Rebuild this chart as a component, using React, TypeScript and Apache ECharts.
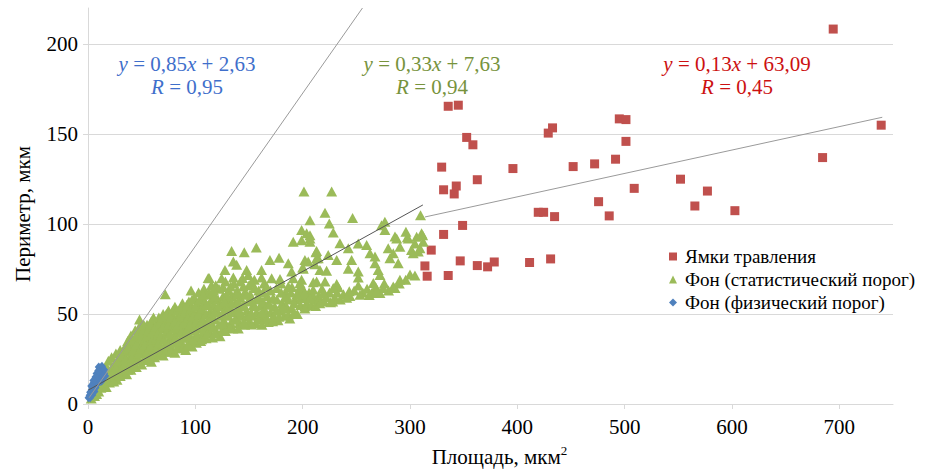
import React, { useEffect, useRef } from "react";
import * as echarts from "echarts";

// ---- Data ----
const seriesNames = ["Ямки травления", "Фон (статистический порог)", "Фон (физический порог)"];

const pitsData: number[][] = [
  [694.3, 208.3], [739, 154.9], [684.4, 136.9], [335.6, 165.4], [345, 166], [352.8, 148.1],
  [358.6, 144], [329.5, 131.6], [331.3, 119], [343.1, 121.1], [341.2, 116.7], [362.7, 124.6],
  [395.9, 130.8], [428.8, 150.5], [432.8, 153.4], [495, 158.4], [501.2, 158], [501.2, 145.9],
  [491.5, 136], [472, 133.4], [452, 131.9], [508.9, 119.8], [552, 124.9], [577.1, 118.3],
  [565.4, 110], [602.7, 107.4], [475.7, 112.4], [485.6, 104.5], [419.5, 106.5], [424.5, 106.5],
  [434.7, 104.1], [349, 99.2], [331.3, 94.2], [319.8, 85.5], [313.9, 76.7], [316, 71],
  [335.6, 71.4], [346.8, 79.5], [362.7, 76.9], [372.3, 76.2], [378.5, 78.9], [411.4, 78.6],
  [431, 80.6],
];

const bgStatData: number[][] = [
  // dense band, area 0..115
  [3, 3], [4, 6], [6, 4.5], [7, 8], [8, 5.5], [9, 10], [10, 7], [11, 12], [12, 9], [13, 15], [14, 11],
  [15, 18], [16, 13], [17, 21], [17, 9.5], [18, 16], [19, 24], [20, 12], [21, 19], [22, 26], [23, 14],
  [24, 22], [25, 17], [26, 28], [27, 13.5], [28, 20], [29, 25], [30, 30], [30, 15.5], [32, 23], [33, 18],
  [34, 27], [35, 32], [36, 16.5], [36, 21], [37, 35], [38, 25], [39, 29], [40, 19], [40, 38], [41, 33],
  [42, 23], [43, 27], [44, 41], [44, 36], [45, 20.5], [46, 31], [47, 25], [48, 47], [48, 39], [49, 43],
  [50, 22], [50, 34], [51, 28], [52, 37], [53, 41], [54, 24.5], [54, 31], [55, 44], [56, 27], [57, 35],
  [58, 39], [59, 23.5], [59, 46], [60, 30], [61, 42], [62, 26], [62, 36], [63, 33], [64, 45], [65, 28],
  [65, 39], [66, 48], [67, 31], [68, 42], [69, 36], [70, 27], [70, 50], [71, 45], [72, 61], [72, 33],
  [73, 39], [74, 29], [74, 47], [75, 52], [76, 36], [77, 42], [78, 31], [78, 50], [79, 45], [80, 38],
  [81, 28.5], [81, 54], [82, 34], [83, 48], [84, 41], [85, 31], [85, 52], [86, 45], [87, 37], [88, 56],
  [88, 33], [89, 49], [90, 42], [91, 30], [91, 53], [92, 46], [93, 37], [94, 34], [94, 57], [95, 50],
  [96, 41], [96, 63], [97, 32], [97, 54], [98, 45], [99, 59], [100, 37], [100, 49], [101, 34], [102, 56],
  [102, 42], [103, 62], [104, 52], [105, 35], [105, 46], [106, 58], [107, 39], [108, 64], [108, 50],
  [109, 43], [110, 36.5], [110, 55], [111, 61], [112, 47], [112, 70], [113, 40], [114, 52], [115, 66],
  [115, 58],
  [18, 13], [22, 17], [24, 12.5], [26, 20], [27, 24], [29, 16], [31, 19], [31, 27], [33, 30], [34, 22],
  [35, 25], [37, 19], [38, 31], [39, 22], [41, 26], [41, 36], [42, 30], [43, 21], [45, 33], [45, 38],
  [46, 24], [47, 28], [47, 42], [49, 31], [50, 37], [51, 40], [52, 25], [52, 44], [53, 33], [55, 29],
  [55, 38], [56, 41], [57, 25.5], [58, 32], [58, 44], [60, 36], [60, 40], [61, 27], [61, 48], [63, 30],
  [63, 43], [64, 37], [66, 34], [66, 40], [67, 27.5], [67, 45], [68, 38], [69, 31], [69, 48], [70, 43],
  [71, 36], [72, 29], [73, 50], [74, 41], [75, 33], [75, 44], [76, 39], [77, 29.5], [77, 48], [79, 34],
  [79, 52], [80, 42], [81, 46], [82, 37], [83, 31], [83, 52], [84, 44], [85, 35], [86, 49], [87, 40],
  [87, 54], [89, 32], [89, 45], [90, 37], [90, 51], [92, 41], [92, 55], [93, 33], [93, 48], [95, 38],
  [95, 44], [96, 53], [97, 58], [98, 36], [98, 49], [99, 42], [100, 54], [101, 46], [102, 38], [103, 50],
  [104, 44], [104, 58], [106, 36], [106, 53], [107, 47], [108, 41], [109, 57], [110, 50], [111, 39],
  [111, 44], [113, 55], [113, 62], [114, 48], [116, 37], [116, 44], [117, 55], [118, 47], [119, 66],
  [120, 40], [120, 52], [121, 58], [122, 44], [122, 64], [123, 49], [124, 55], [125, 41], [126, 60],
  [127, 46], [128, 53], [128, 68], [129, 43], [130, 57], [131, 49], [131, 63], [133, 45], [133, 53],
  [134, 60], [135, 42], [136, 67], [136, 51], [137, 56], [139, 47], [139, 63], [140, 53], [141, 45],
  [142, 59], [143, 49], [144, 70], [145, 55], [146, 44], [146, 62], [148, 52], [149, 57], [150, 46],
  [150, 66], [151, 61], [153, 49], [154, 55], [155, 69], [156, 45], [157, 58], [157, 51], [159, 63],
  [160, 49], [161, 55], [163, 57], [164, 47], [164, 67], [165, 52], [167, 60], [168, 45.5], [168, 56],
  [170, 51], [170, 63], [173, 49], [174, 54], [176, 58], [177, 46.5], [179, 52], [180, 67], [181, 56],
  [183, 49], [184, 62], [185, 54], [187, 58], [188, 47.5], [190, 53], [190, 65], [193, 58], [195, 50],
  [196, 62], [198, 55], [199, 59], [201, 63], [204, 56], [206, 62], [208, 55], [210, 60], [212, 54.5],
  [215, 60], [218, 64], [220, 57], [222, 59.5], [225, 62], [226, 56.5], [230, 59], [232, 62], [235, 58],
  [238, 61], [244, 60], [248, 63], [256, 62], [260, 64], [262, 60.5], [268, 65], [276, 67], [280, 63],
  [290, 67], [296, 69], [300, 72],
  // area 105..215
  [199, 96.6], [206.8, 93.8], [191.2, 90.2], [199, 91], [206.8, 90.2], [156.8, 86.9], [133.8, 85],
  [145.6, 84.3], [169.5, 80], [178, 81.3], [212.4, 84.3], [214.5, 81], [135.4, 79.1], [138.5, 77.3],
  [186.6, 78.2], [205.2, 79.1], [211.4, 77.6], [127.6, 74.5], [147.8, 74.5], [161.7, 74.5], [189.7, 73.6],
  [200.6, 75.1], [113, 69.9], [124.5, 69.9], [135.4, 70.3], [149.3, 71.7], [161.7, 70.3], [171.1, 69.9],
  [178.9, 69.5], [191.2, 69.9], [199, 69], [213, 68.1], [132.9, 65.3], [144.7, 65.3], [155.5, 64.4],
  [166.5, 65.3], [175.7, 64.4], [186.6, 65.3], [197.5, 64.8], [209.8, 63.5], [107.4, 60.7], [118.3, 59.8],
  [129.2, 60.7], [138.5, 60.7], [147.8, 60.7], [158.6, 59.8], [172.6, 58.9], [183.5, 59.3], [194.3, 60.7],
  [203.6, 58.9], [213, 57.9], [110.5, 55.2], [121.3, 54.3], [133.9, 56.1], [144.7, 54.3], [155.5, 54.3],
  [169.5, 55.2], [181.9, 53.4], [202.1, 54.3], [113.6, 48.8], [126, 49.7], [136.9, 46.9], [147.8, 48.8],
  [158.6, 46.9], [166.5, 47.8], [186.6, 49.7], [105.9, 43.3], [116.7, 42.3], [132.3, 42.3], [152.5, 44.1],
  [123, 37.7], [118, 39.5], [128, 40.5], [140, 42], [145, 45.5], [162, 44], [172, 46], [178, 48.5],
  [192, 50.5], [176, 52], [192, 56], [162, 51], [152, 50.5], [141, 51.5], [130, 52.5], [118, 51],
  [125, 45], [113, 45.5], [189, 62], [180, 62], [163, 62], [152, 57.5], [140, 57], [127, 57], [117, 63],
  [126, 65], [152, 67.5], [142, 68],
  // area 195..315
  [227, 118.1], [201.2, 118.1], [220.8, 106.2], [206.8, 102.1], [224.8, 100.3], [246.5, 103.4],
  [273.5, 99.3], [276.6, 101.2], [309.8, 104.9], [206.8, 92], [228.5, 95.3], [234.7, 89.3], [276.6, 96.6],
  [287.6, 92], [298.4, 92], [306.2, 92.9], [312.3, 90.2], [304.6, 89.2], [213, 85], [223.8, 82.8],
  [242.5, 86.5], [251.8, 89.2], [259.6, 88.3], [262.7, 83.7], [279.7, 86.5], [284.4, 83.7], [301.4, 85.5],
  [307.7, 84.7], [202.1, 80], [213, 81], [231.7, 80], [245.6, 80], [267.4, 81.9], [267.4, 78.2],
  [281.3, 81], [289, 78.2], [200, 75.8], [216.1, 74.5], [222.3, 74], [242.5, 75.1], [251.8, 73.6],
  [270.4, 74.5], [272, 71.7], [304.6, 71.4], [197.5, 67.2], [209.9, 67.7], [220.8, 68.1], [231.7, 66.6],
  [233.2, 64.8], [251.8, 70.3], [265.8, 67.2], [275.1, 64.4], [286, 64.4], [202.1, 61.6], [206.8, 58.9],
  [219.2, 61.6], [214.5, 57.1], [243.4, 62.6], [251.8, 65.9], [264.3, 61.6], [272, 61.6],
  [286, 93], [297.5, 92.7], [311.8, 93.8], [203.7, 94.8], [296.2, 95.7], [310.8, 94.8], [290.6, 87.4],
  [303, 83.7], [309.3, 86.5], [290.6, 69], [216, 56], [228, 57], [241, 59], [253.4, 60.7], [269, 62.6],
  [284.4, 65.3], [228.5, 64.4], [202, 53],
];

const bgPhysData: number[][] = [
  [0.5, 3.5], [1.5, 4.8], [2, 6.5], [3, 5.2], [3.5, 8], [4, 9.5], [5, 7.5], [5, 11.5], [6, 10],
  [6.5, 13.5], [7, 12], [8, 14.5], [8, 17], [9, 11.5], [9.5, 18.5], [10, 20.5], [11, 19], [12, 17],
  [12, 15], [13, 18.5], [14, 16], [11, 13.5], [13, 13], [10, 15.5], [14, 19.5], [15, 15],
  [2, 3.5], [4, 5], [6, 7], [7, 9], [8, 11], [10, 12.5], [11, 16], [12, 20], [13, 21], [14, 17.5],
  [15, 17], [9, 14], [10, 18], [12, 12.5], [16, 15.5], [15, 19], [7, 15], [5, 13], [3, 10],
];

// Trend lines: y = slope * x + intercept, drawn over [from, to]
const trendSlopes = [0.13, 0.33, 0.85];
const trendIntercepts = [63.09, 7.63, 2.63];
const trendFrom = [314, 0.5, 1];
const trendTo = [740, 312, 255.7];
const trendR = ["0,45", "0,94", "0,95"];
const trendSlopeText = ["0,13", "0,33", "0,85"];
const trendInterceptText = ["63,09", "7,63", "2,63"];

const xTicks = { min: 0, max: 750, interval: 100 };
const yTicks = { min: 0, max: 220, interval: 50 };

const FONT = "Times New Roman, Liberation Serif, DejaVu Serif, serif";

export default function App() {
  const ref = useRef<HTMLDivElement>(null);

  useEffect(() => {
    document.body.style.margin = "0";
    if (!ref.current) return;
    const chart = echarts.init(ref.current, undefined, { renderer: "svg" });

    const trendColors = ["#9a9a9a", "#555555", "#9a9a9a"];
    const trendSeries = trendSlopes.map((s, i) => ({
      type: "line" as const,
      name: "trend" + i,
      data: [
        [trendFrom[i], s * trendFrom[i] + trendIntercepts[i]],
        [trendTo[i], s * trendTo[i] + trendIntercepts[i]],
      ],
      symbol: "none",
      silent: true,
      lineStyle: { color: trendColors[i], width: 1 },
      z: 5,
    }));

    const eqColors = ["#cc1111", "#77933c", "#3f6fcb"];
    const eqX = [737, 432, 187];
    const rich = (c: string) => ({
      n: { fill: c, color: c, fontSize: 21, fontFamily: FONT },
      i: { fill: c, color: c, fontSize: 21, fontFamily: FONT, fontStyle: "italic" },
    });
    const graphics: any[] = [];
    for (let i = 0; i < 3; i++) {
      graphics.push({
        type: "text",
        x: eqX[i],
        y: 64,
        style: {
          text: `{i|y}{n| = ${trendSlopeText[i]}}{i|x}{n| + ${trendInterceptText[i]}}`,
          rich: rich(eqColors[i]),
          fill: eqColors[i],
          fontSize: 21,
          fontFamily: FONT,
          align: "center",
          verticalAlign: "middle",
        },
      });
      graphics.push({
        type: "text",
        x: eqX[i],
        y: 87,
        style: {
          text: `{i|R}{n| = ${trendR[i]}}`,
          rich: rich(eqColors[i]),
          fill: eqColors[i],
          fontSize: 21,
          fontFamily: FONT,
          align: "center",
          verticalAlign: "middle",
        },
      });
    }

    const axisGray = "#d9d9d9";

    chart.setOption({
      animation: false,
      textStyle: { fontFamily: FONT },
      grid: { left: 88, right: 38, top: 8, bottom: 65 },
      xAxis: {
        type: "value",
        min: xTicks.min,
        max: xTicks.max,
        interval: xTicks.interval,
        name: "Площадь, мкм{s|2}",
        nameLocation: "middle",
        nameGap: 40,
        nameTextStyle: {
          fontSize: 21,
          fontFamily: FONT,
          color: "#000",
          padding: [0, 0, 0, 18],
          rich: { s: { fontSize: 13, fontFamily: FONT, color: "#000", verticalAlign: "top", padding: [0, 0, 12, 0] } },
        },
        axisLine: { show: true, lineStyle: { color: axisGray, width: 1 } },
        axisTick: { show: true, length: 5, lineStyle: { color: axisGray } },
        axisLabel: { fontSize: 21, fontFamily: FONT, color: "#000", margin: 12, showMaxLabel: false },
        splitLine: { show: false },
      },
      yAxis: {
        type: "value",
        min: yTicks.min,
        max: yTicks.max,
        interval: yTicks.interval,
        name: "Периметр, мкм",
        nameLocation: "middle",
        nameRotate: 90,
        nameGap: 55,
        nameTextStyle: { fontSize: 21, fontFamily: FONT, color: "#000", padding: [0, 16, 0, 0] },
        axisLine: { show: true, lineStyle: { color: axisGray, width: 1 } },
        axisTick: { show: true, length: 5, lineStyle: { color: axisGray } },
        axisLabel: { fontSize: 21, fontFamily: FONT, color: "#000", margin: 10, showMaxLabel: false },
        splitLine: { show: true, showMaxLine: false, lineStyle: { color: axisGray, width: 1 } },
      },
      legend: {
        orient: "vertical",
        left: 664,
        top: 242,
        itemWidth: 8,
        itemHeight: 8,
        itemGap: 4,
        textStyle: { fontSize: 19, fontFamily: FONT, color: "#000", padding: [0, 0, 0, 3] },
        data: [
          { name: seriesNames[0], icon: "rect" },
          { name: seriesNames[1], icon: "triangle" },
          { name: seriesNames[2], icon: "diamond" },
        ],
      },
      graphic: graphics,
      series: [
        {
          type: "scatter",
          name: seriesNames[0],
          data: pitsData,
          symbol: "rect",
          symbolSize: 9,
          itemStyle: { color: "#c0504d", opacity: 1 },
          z: 2,
        },
        {
          type: "scatter",
          name: seriesNames[1],
          data: bgStatData,
          symbol: "triangle",
          symbolSize: [11, 10],
          itemStyle: { color: "#9bbb59", opacity: 1 },
          z: 3,
        },
        {
          type: "scatter",
          name: seriesNames[2],
          data: bgPhysData,
          symbol: "diamond",
          symbolSize: [8, 9],
          itemStyle: { color: "#4f81bd", opacity: 1 },
          z: 4,
        },
        ...trendSeries,
      ],
    });

    return () => chart.dispose();
  }, []);

  return <div ref={ref} style={{ width: 931, height: 472 }} />;
}
